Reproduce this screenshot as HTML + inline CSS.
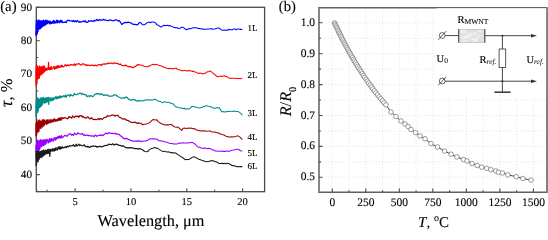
<!DOCTYPE html>
<html><head><meta charset="utf-8"><style>
html,body{margin:0;padding:0;background:#fff;}
body{width:548px;height:230px;position:relative;overflow:hidden;font-family:"Liberation Serif",serif;}
</style></head><body>
<svg width="548" height="230" viewBox="0 0 548 230" style="position:absolute;left:0;top:0;will-change:transform" text-rendering="geometricPrecision"><rect x="36.3" y="7.3" width="228.3" height="184.39999999999998" fill="none" stroke="#4a4a4a" stroke-width="1.3"/><path d="M36.3,174.66h3.5 M36.3,141.19h3.5 M36.3,107.72h3.5 M36.3,74.25h3.5 M36.3,40.77h3.5 M36.3,7.30h3.5 M36.3,191.40h2 M36.3,157.93h2 M36.3,124.45h2 M36.3,90.98h2 M36.3,57.51h2 M36.3,24.04h2 M75.10,191.7v-3.5 M130.93,191.7v-3.5 M186.77,191.7v-3.5 M242.60,191.7v-3.5 M47.18,191.7v-2 M103.02,191.7v-2 M158.85,191.7v-2 M214.68,191.7v-2" stroke="#4a4a4a" stroke-width="1.1" fill="none"/><path d="M35.90,30.88 L35.98,35.40 L36.06,33.14 L36.14,23.79 L36.22,24.97 L36.30,34.22 L36.38,20.12 L36.46,33.02 L36.54,32.48 L36.62,27.25 L36.70,24.65 L36.78,24.22 L36.86,23.82 L36.94,26.55 L37.02,27.33 L37.10,27.94 L37.18,34.05 L37.26,31.06 L37.34,28.59 L37.42,33.45 L37.50,22.93 L37.58,22.17 L37.66,28.05 L37.74,20.62 L37.82,20.51 L37.90,26.53 L37.98,25.85 L38.06,31.32 L38.14,27.69 L38.22,26.22 L38.30,25.95 L38.38,22.96 L38.46,20.20 L38.54,22.27 L38.62,27.88 L38.70,22.31 L38.78,24.15 L38.86,20.11 L38.94,29.02 L39.02,21.72 L39.10,22.89 L39.18,29.24 L39.26,25.33 L39.34,28.70 L39.42,26.52 L39.50,27.47 L39.58,20.98 L39.66,25.35 L39.74,24.98 L39.82,28.39 L39.90,23.49 L39.98,25.67 L40.06,20.63 L40.14,23.63 L40.22,23.01 L40.30,21.43 L40.38,27.32 L40.46,23.41 L40.54,28.58 L40.62,25.16 L40.70,25.23 L40.78,25.46 L40.86,25.73 L40.94,21.34 L41.02,23.69 L41.10,22.03 L41.18,23.32 L41.26,20.86 L41.34,27.70 L41.42,21.77 L41.50,25.28 L41.58,22.39 L41.66,26.71 L41.74,25.06 L41.82,21.08 L41.90,26.32 L41.98,26.99 L42.06,26.63 L42.14,24.18 L42.22,21.14 L42.30,21.46 L42.38,26.57 L42.46,23.92 L42.54,21.34 L42.62,26.11 L42.70,24.43 L42.78,23.91 L42.86,22.60 L42.94,22.81 L43.02,21.67 L43.10,20.36 L43.18,25.72 L43.26,23.08 L43.34,23.56 L43.42,22.13 L43.50,24.77 L43.58,20.27 L43.66,22.39 L43.74,20.30 L43.82,20.85 L43.90,25.88 L43.98,24.01 L44.06,22.63 L44.14,23.17 L44.22,25.17 L44.30,22.10 L44.38,23.49 L44.46,23.99 L44.54,22.12 L44.62,23.02 L44.70,24.36 L44.78,25.12 L45.03,20.94 L45.28,25.05 L45.53,20.15 L45.78,23.94 L46.03,24.15 L46.28,20.79 L46.53,22.13 L46.78,23.96 L47.03,20.20 L47.28,22.99 L47.53,23.67 L47.78,22.39 L48.03,23.27 L48.28,21.10 L48.53,22.23 L48.78,21.64 L49.03,20.87 L49.28,21.53 L49.53,23.90 L49.78,22.38 L50.03,21.45 L50.28,21.18 L50.53,23.73 L50.78,21.80 L51.03,23.75 L51.28,22.02 L51.53,22.02 L51.78,23.33 L52.03,22.76 L52.28,22.16 L52.53,21.61 L52.78,23.14 L53.03,21.52 L53.28,23.23 L53.53,20.35 L53.78,21.54 L54.03,21.82 L54.28,23.21 L54.53,20.92 L54.78,22.69 L55.03,22.26 L55.28,22.37 L55.53,22.07 L55.78,23.12 L56.03,21.13 L56.28,21.32 L56.53,20.72 L56.78,20.26 L57.03,20.74 L57.28,22.82 L57.53,22.59 L57.78,20.44 L58.03,21.87 L58.28,21.50 L58.53,21.83 L58.78,22.00 L59.03,20.99 L59.28,22.84 L59.53,21.44 L59.78,21.89 L60.03,21.91 L60.28,20.66 L60.53,20.32 L60.78,21.28 L61.03,22.24 L61.28,22.37 L61.53,22.14 L61.78,20.49 L62.68,22.60 L63.58,22.29 L64.48,22.47 L65.38,21.57 L66.28,22.53 L67.18,20.41 L68.08,20.39 L68.98,20.38 L69.88,20.93 L70.78,20.93 L71.68,20.80 L72.58,21.65 L73.48,20.49 L74.38,21.70 L75.28,20.79 L76.18,21.87 L77.08,20.51 L77.98,21.11 L78.88,22.39 L79.78,21.58 L80.68,22.12 L81.58,21.81 L82.48,21.71 L83.38,20.91 L84.28,21.64 L85.18,20.64 L86.08,22.06 L86.98,22.34 L87.88,22.14 L88.78,20.70 L89.68,21.21 L90.58,21.15 L91.48,20.66 L92.38,21.33 L93.28,21.34 L94.18,20.23 L95.08,20.88 L95.98,20.55 L96.88,19.31 L97.78,20.33 L98.68,20.52 L99.58,19.42 L100.48,20.03 L101.38,20.14 L102.28,20.10 L103.58,19.33 L104.88,20.21 L106.18,20.19 L107.48,20.51 L108.78,20.51 L110.08,19.85 L111.38,20.46 L112.68,20.71 L113.98,20.80 L115.28,19.89 L116.58,19.87 L117.88,20.96 L119.18,20.69 L120.48,22.25 L121.78,24.53 L123.08,23.54 L124.38,22.59 L125.68,22.28 L126.98,22.55 L128.28,22.05 L129.58,22.72 L130.88,22.80 L132.18,23.87 L133.48,24.48 L134.78,24.28 L136.08,24.53 L137.38,24.84 L138.68,23.49 L139.98,22.21" fill="none" stroke="#0000ff" stroke-width="1.25" stroke-linejoin="round"/><path d="M139.98,22.21 L141.28,23.20 L142.58,24.84 L143.88,24.70 L145.18,24.33 L146.48,23.12 L147.78,22.56 L149.08,22.12 L150.38,22.72 L151.68,21.94 L152.98,21.91 L154.28,22.15 L155.58,22.91 L156.88,24.86 L158.18,25.28 L159.48,26.13 L160.78,26.94 L162.08,26.44 L163.38,25.50 L164.68,25.33 L165.98,25.69 L167.28,25.30 L168.58,25.85 L169.88,25.52 L171.18,26.44 L172.48,26.79 L173.78,27.27 L175.08,27.64 L176.38,27.84 L177.68,27.89 L178.98,28.40 L180.28,28.21 L181.58,27.15 L182.88,27.16 L184.18,28.18 L185.48,29.30 L186.78,29.75 L188.08,28.89 L189.38,28.61 L190.68,28.73 L191.98,28.14 L193.28,27.82 L194.58,27.80 L195.88,27.70 L197.18,27.94 L198.48,28.42 L199.78,28.62 L201.08,29.11 L202.38,28.73 L203.68,29.22 L204.98,29.22 L206.28,29.19 L207.58,28.95 L208.88,28.90 L210.18,28.93 L211.48,28.61 L212.78,29.28 L214.08,29.03 L215.38,28.69 L216.68,28.20 L217.98,27.98 L219.28,28.06 L220.58,29.23 L221.88,30.15 L223.18,30.20 L224.48,29.96 L225.78,30.29 L227.08,30.26 L228.38,29.37 L229.68,29.64 L230.98,29.65 L232.28,29.70 L233.58,29.07 L234.88,29.03 L236.18,29.70 L237.48,29.03 L238.78,29.06 L240.08,29.36 L241.38,29.26 L242.30,29.49" fill="none" stroke="#0000ff" stroke-width="1.05" stroke-linejoin="round"/><path d="M35.90,69.25 L35.98,85.17 L36.06,69.74 L36.14,81.51 L36.22,66.47 L36.30,74.91 L36.38,65.73 L36.46,71.43 L36.54,71.32 L36.62,79.26 L36.70,73.94 L36.78,66.21 L36.86,83.91 L36.94,81.68 L37.02,81.97 L37.10,69.63 L37.18,72.22 L37.26,69.19 L37.34,67.37 L37.42,65.78 L37.50,73.73 L37.58,67.29 L37.66,68.15 L37.74,79.22 L37.82,73.02 L37.90,68.18 L37.98,75.73 L38.06,69.39 L38.14,73.31 L38.22,69.56 L38.30,72.96 L38.38,74.51 L38.46,73.07 L38.54,70.99 L38.62,76.47 L38.70,77.48 L38.78,67.85 L38.86,67.24 L38.94,66.92 L39.02,78.31 L39.10,77.67 L39.18,68.40 L39.26,77.74 L39.34,68.06 L39.42,71.73 L39.50,71.55 L39.58,76.52 L39.66,65.98 L39.74,69.21 L39.82,72.49 L39.90,66.28 L39.98,68.21 L40.06,70.75 L40.14,75.31 L40.22,73.89 L40.30,74.54 L40.38,73.72 L40.46,73.06 L40.54,74.47 L40.62,72.64 L40.70,73.12 L40.78,68.65 L40.86,67.29 L40.94,73.10 L41.02,67.25 L41.10,74.52 L41.18,71.35 L41.26,68.76 L41.34,74.42 L41.42,67.10 L41.50,70.38 L41.58,66.51 L41.66,74.33 L41.74,70.79 L41.82,72.74 L41.90,68.15 L41.98,72.60 L42.06,71.69 L42.14,71.14 L42.22,73.64 L42.30,69.31 L42.38,69.13 L42.46,71.34 L42.54,72.43 L42.62,68.41 L42.70,71.02 L42.78,67.40 L42.86,70.02 L42.94,71.64 L43.02,66.28 L43.10,71.23 L43.18,65.92 L43.26,72.83 L43.34,69.22 L43.42,68.76 L43.50,70.96 L43.58,69.53 L43.66,70.95 L43.74,66.43 L43.82,69.71 L43.90,69.65 L43.98,72.15 L44.06,66.13 L44.14,68.87 L44.22,70.02 L44.30,69.47 L44.38,66.36 L44.46,69.69 L44.54,67.30 L44.62,67.13 L44.70,71.39 L44.78,67.13 L45.03,68.67 L45.28,70.36 L45.53,70.02 L45.78,69.07 L46.03,70.41 L46.28,68.49 L46.53,69.26 L46.78,70.22 L47.03,69.44 L47.28,69.20 L47.53,68.01 L47.78,68.71 L48.03,67.91 L48.28,69.48 L48.53,62.33 L48.78,68.16 L49.03,69.39 L49.28,68.27 L49.53,67.55 L49.78,69.56 L50.03,67.70 L50.28,69.55 L50.53,69.27 L50.78,67.90 L51.03,68.90 L51.28,66.27 L51.53,67.59 L51.78,69.31 L52.03,68.23 L52.28,68.10 L52.53,68.44 L52.78,68.44 L53.03,68.06 L53.28,67.44 L53.53,66.58 L53.78,66.92 L54.03,66.88 L54.28,67.29 L54.53,69.12 L54.78,66.94 L55.03,67.20 L55.28,66.90 L55.53,67.52 L55.78,68.63 L56.03,68.38 L56.28,66.73 L56.53,66.34 L56.78,68.18 L57.03,66.93 L57.28,67.46 L57.53,65.58 L57.78,67.89 L58.03,66.21 L58.28,66.70 L58.53,65.79 L58.78,66.39 L59.03,67.52 L59.28,67.48 L59.53,66.43 L59.78,67.23 L60.03,66.32 L60.28,66.05 L60.53,66.50 L60.78,65.52 L61.03,65.81 L61.28,66.84 L61.53,66.97 L61.78,65.02 L62.68,66.70 L63.58,66.78 L64.48,65.70 L65.38,64.62 L66.28,66.04 L67.18,64.86 L68.08,65.69 L68.98,64.94 L69.88,65.44 L70.78,64.46 L71.68,64.86 L72.58,64.87 L73.48,65.02 L74.38,64.01 L75.28,65.57 L76.18,64.08 L77.08,64.07 L77.98,63.94 L78.88,63.54 L79.78,64.25 L80.68,64.94 L81.58,64.84 L82.48,63.87 L83.38,63.82 L84.28,64.23 L85.18,65.14 L86.08,64.69 L86.98,65.57 L87.88,65.17 L88.78,65.19 L89.68,65.54 L90.58,65.62 L91.48,65.07 L92.38,65.11 L93.28,65.55 L94.18,65.68 L95.08,65.08 L95.98,65.53 L96.88,65.79 L97.78,64.87 L98.68,64.77 L99.58,64.71 L100.48,64.74 L101.38,65.66 L102.28,64.04 L103.58,64.06 L104.88,63.80 L106.18,64.05 L107.48,63.15 L108.78,63.63 L110.08,63.05 L111.38,63.09 L112.68,63.71 L113.98,62.77 L115.28,63.39 L116.58,63.28 L117.88,63.60 L119.18,64.52 L120.48,64.04 L121.78,65.42 L123.08,65.67 L124.38,65.66 L125.68,65.16 L126.98,66.25 L128.28,66.46 L129.58,66.93 L130.88,66.46 L132.18,67.54 L133.48,67.55 L134.78,66.56 L136.08,66.07 L137.38,64.67 L138.68,64.81 L139.98,64.85" fill="none" stroke="#ff0000" stroke-width="1.25" stroke-linejoin="round"/><path d="M139.98,64.85 L141.28,65.33 L142.58,65.49 L143.88,66.15 L145.18,66.55 L146.48,66.45 L147.78,66.68 L149.08,65.98 L150.38,65.29 L151.68,65.07 L152.98,64.17 L154.28,64.66 L155.58,64.51 L156.88,64.34 L158.18,65.16 L159.48,65.60 L160.78,65.83 L162.08,66.25 L163.38,66.97 L164.68,67.58 L165.98,68.08 L167.28,68.35 L168.58,68.82 L169.88,68.18 L171.18,68.79 L172.48,68.57 L173.78,68.74 L175.08,68.31 L176.38,68.14 L177.68,69.60 L178.98,69.84 L180.28,70.09 L181.58,70.82 L182.88,70.78 L184.18,70.40 L185.48,70.49 L186.78,71.14 L188.08,70.58 L189.38,71.03 L190.68,70.61 L191.98,71.36 L193.28,71.11 L194.58,71.97 L195.88,72.07 L197.18,72.96 L198.48,73.47 L199.78,73.01 L201.08,73.34 L202.38,73.88 L203.68,73.79 L204.98,73.21 L206.28,72.68 L207.58,71.65 L208.88,71.39 L210.18,70.92 L211.48,71.92 L212.78,72.83 L214.08,74.12 L215.38,75.02 L216.68,76.28 L217.98,76.81 L219.28,76.56 L220.58,76.01 L221.88,76.45 L223.18,76.07 L224.48,75.79 L225.78,76.62 L227.08,76.84 L228.38,77.58 L229.68,78.37 L230.98,78.27 L232.28,78.25 L233.58,78.35 L234.88,78.26 L236.18,78.43 L237.48,78.53 L238.78,78.50 L240.08,78.45 L241.38,78.77 L242.30,78.58" fill="none" stroke="#ff0000" stroke-width="1.05" stroke-linejoin="round"/><path d="M35.90,112.92 L35.98,116.50 L36.06,103.01 L36.14,108.94 L36.22,107.48 L36.30,98.93 L36.38,99.87 L36.46,114.25 L36.54,106.34 L36.62,112.32 L36.70,98.69 L36.78,108.15 L36.86,112.80 L36.94,112.62 L37.02,97.58 L37.10,106.35 L37.18,103.68 L37.26,110.06 L37.34,98.69 L37.42,101.76 L37.50,110.41 L37.58,104.86 L37.66,104.51 L37.74,112.29 L37.82,102.33 L37.90,98.13 L37.98,103.27 L38.06,99.73 L38.14,98.68 L38.22,105.53 L38.30,110.81 L38.38,105.49 L38.46,106.31 L38.54,101.86 L38.62,105.08 L38.70,107.36 L38.78,105.13 L38.86,107.76 L38.94,104.46 L39.02,99.99 L39.10,104.69 L39.18,103.49 L39.26,99.52 L39.34,104.86 L39.42,107.09 L39.50,99.09 L39.58,103.76 L39.66,105.81 L39.74,102.03 L39.82,100.51 L39.90,101.59 L39.98,103.36 L40.06,104.84 L40.14,103.41 L40.22,98.64 L40.30,105.94 L40.38,106.93 L40.46,98.54 L40.54,100.01 L40.62,99.23 L40.70,105.79 L40.78,106.28 L40.86,97.94 L40.94,100.65 L41.02,99.31 L41.10,101.84 L41.18,105.92 L41.26,98.15 L41.34,99.04 L41.42,101.81 L41.50,102.09 L41.58,103.96 L41.66,101.26 L41.74,98.70 L41.82,100.47 L41.90,105.66 L41.98,103.67 L42.06,98.45 L42.14,104.01 L42.22,99.98 L42.30,103.67 L42.38,97.59 L42.46,104.24 L42.54,98.74 L42.62,100.95 L42.70,102.46 L42.78,101.27 L42.86,98.70 L42.94,98.50 L43.02,99.54 L43.10,97.85 L43.18,99.01 L43.26,98.39 L43.34,100.72 L43.42,99.93 L43.50,101.49 L43.58,99.37 L43.66,97.69 L43.74,99.67 L43.82,102.46 L43.90,99.13 L43.98,100.08 L44.06,102.32 L44.14,100.05 L44.22,103.07 L44.30,103.22 L44.38,99.37 L44.46,101.99 L44.54,98.98 L44.62,98.27 L44.70,100.07 L44.78,101.03 L45.03,102.89 L45.28,98.23 L45.53,101.37 L45.78,99.97 L46.03,98.07 L46.28,102.44 L46.53,100.90 L46.78,97.97 L47.03,101.77 L47.28,97.80 L47.53,97.72 L47.78,98.81 L48.03,101.54 L48.28,97.39 L48.53,101.28 L48.78,104.38 L49.03,97.48 L49.28,99.57 L49.53,99.07 L49.78,99.45 L50.03,100.10 L50.28,99.81 L50.53,101.00 L50.78,97.69 L51.03,100.16 L51.28,98.59 L51.53,99.93 L51.78,100.27 L52.03,100.57 L52.28,97.89 L52.53,98.52 L52.78,100.19 L53.03,100.13 L53.28,98.10 L53.53,99.98 L53.78,98.12 L54.03,97.97 L54.28,99.18 L54.53,98.19 L54.78,98.07 L55.03,97.82 L55.28,97.92 L55.53,96.94 L55.78,96.65 L56.03,98.77 L56.28,98.13 L56.53,98.41 L56.78,98.75 L57.03,96.97 L57.28,96.94 L57.53,97.02 L57.78,97.06 L58.03,98.36 L58.28,97.18 L58.53,96.98 L58.78,97.84 L59.03,96.51 L59.28,96.24 L59.53,97.88 L59.78,98.00 L60.03,96.66 L60.28,97.57 L60.53,95.86 L60.78,96.84 L61.03,97.27 L61.28,96.35 L61.53,96.56 L61.78,97.22 L62.68,96.99 L63.58,95.68 L64.48,96.92 L65.38,95.16 L66.28,97.17 L67.18,95.11 L68.08,95.06 L68.98,94.76 L69.88,96.42 L70.78,94.63 L71.68,95.18 L72.58,95.88 L73.48,95.63 L74.38,93.53 L75.28,94.45 L76.18,94.52 L77.08,94.64 L77.98,93.82 L78.88,93.77 L79.78,93.11 L80.68,93.21 L81.58,94.35 L82.48,93.64 L83.38,94.14 L84.28,94.69 L85.18,94.51 L86.08,94.75 L86.98,96.68 L87.88,96.02 L88.78,95.78 L89.68,96.76 L90.58,95.50 L91.48,95.74 L92.38,96.68 L93.28,96.21 L94.18,95.38 L95.08,94.11 L95.98,94.20 L96.88,93.55 L97.78,93.85 L98.68,93.58 L99.58,93.81 L100.48,94.72 L101.38,93.98 L102.28,94.18 L103.58,95.49 L104.88,94.83 L106.18,95.07 L107.48,94.96 L108.78,96.23 L110.08,96.20 L111.38,96.07 L112.68,95.94 L113.98,94.81 L115.28,94.77 L116.58,95.41 L117.88,96.54 L119.18,97.20 L120.48,97.80 L121.78,98.25 L123.08,97.74 L124.38,98.35 L125.68,97.07 L126.98,97.51 L128.28,98.84 L129.58,99.63 L130.88,100.03 L132.18,99.83 L133.48,99.69 L134.78,99.70 L136.08,100.83 L137.38,101.11 L138.68,100.35 L139.98,101.16" fill="none" stroke="#008b8b" stroke-width="1.25" stroke-linejoin="round"/><path d="M139.98,101.16 L141.28,100.67 L142.58,100.58 L143.88,100.68 L145.18,99.87 L146.48,100.09 L147.78,99.64 L149.08,100.08 L150.38,99.73 L151.68,100.02 L152.98,99.97 L154.28,99.31 L155.58,99.36 L156.88,100.61 L158.18,100.96 L159.48,101.26 L160.78,101.55 L162.08,102.62 L163.38,102.26 L164.68,101.77 L165.98,102.26 L167.28,102.29 L168.58,102.29 L169.88,102.88 L171.18,103.16 L172.48,103.40 L173.78,104.77 L175.08,106.07 L176.38,106.97 L177.68,107.21 L178.98,107.71 L180.28,107.93 L181.58,107.92 L182.88,108.76 L184.18,108.25 L185.48,109.04 L186.78,108.69 L188.08,108.97 L189.38,109.00 L190.68,107.69 L191.98,106.39 L193.28,106.45 L194.58,106.93 L195.88,106.90 L197.18,107.58 L198.48,107.67 L199.78,108.06 L201.08,107.61 L202.38,107.27 L203.68,106.58 L204.98,106.39 L206.28,105.61 L207.58,106.04 L208.88,106.25 L210.18,106.41 L211.48,107.08 L212.78,108.03 L214.08,107.91 L215.38,108.27 L216.68,107.64 L217.98,107.80 L219.28,107.87 L220.58,109.88 L221.88,111.89 L223.18,111.54 L224.48,112.11 L225.78,111.84 L227.08,111.63 L228.38,111.51 L229.68,111.19 L230.98,111.23 L232.28,111.42 L233.58,110.92 L234.88,111.29 L236.18,111.47 L237.48,111.47 L238.78,111.87 L240.08,112.89 L241.38,113.78 L242.30,115.35" fill="none" stroke="#008b8b" stroke-width="1.05" stroke-linejoin="round"/><path d="M35.90,123.51 L35.98,135.97 L36.06,135.91 L36.14,131.02 L36.22,129.06 L36.30,123.23 L36.38,128.78 L36.46,124.70 L36.54,121.83 L36.62,121.84 L36.70,132.99 L36.78,134.80 L36.86,121.99 L36.94,119.91 L37.02,123.85 L37.10,121.80 L37.18,122.60 L37.26,128.54 L37.34,126.02 L37.42,126.05 L37.50,122.71 L37.58,129.27 L37.66,123.83 L37.74,125.32 L37.82,126.14 L37.90,132.08 L37.98,123.06 L38.06,129.30 L38.14,123.81 L38.22,131.35 L38.30,124.80 L38.38,126.14 L38.46,130.72 L38.54,128.06 L38.62,120.90 L38.70,121.40 L38.78,131.55 L38.86,120.10 L38.94,123.26 L39.02,130.78 L39.10,119.93 L39.18,121.57 L39.26,122.13 L39.34,120.71 L39.42,124.88 L39.50,126.11 L39.58,123.13 L39.66,120.90 L39.74,128.16 L39.82,128.00 L39.90,125.45 L39.98,121.14 L40.06,125.13 L40.14,125.93 L40.22,123.91 L40.30,128.04 L40.38,123.46 L40.46,124.55 L40.54,120.82 L40.62,124.93 L40.70,126.72 L40.78,126.33 L40.86,122.04 L40.94,128.48 L41.02,126.02 L41.10,123.41 L41.18,123.29 L41.26,126.33 L41.34,121.22 L41.42,125.04 L41.50,125.64 L41.58,123.94 L41.66,126.76 L41.74,123.47 L41.82,123.41 L41.90,121.97 L41.98,126.84 L42.06,122.16 L42.14,125.01 L42.22,122.81 L42.30,126.69 L42.38,126.72 L42.46,119.95 L42.54,126.92 L42.62,124.06 L42.70,120.25 L42.78,123.22 L42.86,120.07 L42.94,123.51 L43.02,120.99 L43.10,122.21 L43.18,121.76 L43.26,123.73 L43.34,125.15 L43.42,125.85 L43.50,121.84 L43.58,123.38 L43.66,119.73 L43.74,122.06 L43.82,125.74 L43.90,120.43 L43.98,125.07 L44.06,123.69 L44.14,121.47 L44.22,124.38 L44.30,121.41 L44.38,125.00 L44.46,120.15 L44.54,120.36 L44.62,124.02 L44.70,122.25 L44.78,120.50 L45.03,122.52 L45.28,121.25 L45.53,122.56 L45.78,123.51 L46.03,124.00 L46.28,119.87 L46.53,122.49 L46.78,124.32 L47.03,121.72 L47.28,123.11 L47.53,119.95 L47.78,123.43 L48.03,122.05 L48.28,123.33 L48.53,122.82 L48.78,123.10 L49.03,119.64 L49.28,122.33 L49.53,120.17 L49.78,120.42 L50.03,120.62 L50.28,121.62 L50.53,121.71 L50.78,122.80 L51.03,119.29 L51.28,119.93 L51.53,120.51 L51.78,122.11 L52.03,121.08 L52.28,120.89 L52.53,121.70 L52.78,121.27 L53.03,119.95 L53.28,119.20 L53.53,120.42 L53.78,121.75 L54.03,120.74 L54.28,118.89 L54.53,120.10 L54.78,119.86 L55.03,120.43 L55.28,120.38 L55.53,121.46 L55.78,119.47 L56.03,119.63 L56.28,120.20 L56.53,120.96 L56.78,120.35 L57.03,119.57 L57.28,120.54 L57.53,119.50 L57.78,120.85 L58.03,118.79 L58.28,118.29 L58.53,120.27 L58.78,118.68 L59.03,120.20 L59.28,119.47 L59.53,119.14 L59.78,117.92 L60.03,119.83 L60.28,117.78 L60.53,120.22 L60.78,119.93 L61.03,118.32 L61.28,117.81 L61.53,119.81 L61.78,118.67 L62.68,117.58 L63.58,118.40 L64.48,117.60 L65.38,117.85 L66.28,118.27 L67.18,118.77 L68.08,118.33 L68.98,116.67 L69.88,117.27 L70.78,117.16 L71.68,118.15 L72.58,116.02 L73.48,116.84 L74.38,117.61 L75.28,116.41 L76.18,116.05 L77.08,116.61 L77.98,116.08 L78.88,117.28 L79.78,115.57 L80.68,115.84 L81.58,115.68 L82.48,117.03 L83.38,116.39 L84.28,117.73 L85.18,117.92 L86.08,118.21 L86.98,117.17 L87.88,116.92 L88.78,117.80 L89.68,118.98 L90.58,118.74 L91.48,117.63 L92.38,118.87 L93.28,119.36 L94.18,119.55 L95.08,119.24 L95.98,119.58 L96.88,119.62 L97.78,118.90 L98.68,118.53 L99.58,119.56 L100.48,118.59 L101.38,118.78 L102.28,119.41 L103.58,118.09 L104.88,117.29 L106.18,117.19 L107.48,115.58 L108.78,116.23 L110.08,116.00 L111.38,115.23 L112.68,115.22 L113.98,115.01 L115.28,116.20 L116.58,115.30 L117.88,115.43 L119.18,117.25 L120.48,117.60 L121.78,118.44 L123.08,119.12 L124.38,118.78 L125.68,119.41 L126.98,120.49 L128.28,120.45 L129.58,121.51 L130.88,122.22 L132.18,122.48 L133.48,122.69 L134.78,122.21 L136.08,122.61 L137.38,123.56 L138.68,122.83 L139.98,123.53" fill="none" stroke="#990000" stroke-width="1.25" stroke-linejoin="round"/><path d="M139.98,123.53 L141.28,123.37 L142.58,124.85 L143.88,124.23 L145.18,124.30 L146.48,123.90 L147.78,123.37 L149.08,122.94 L150.38,121.98 L151.68,120.70 L152.98,119.63 L154.28,119.81 L155.58,120.09 L156.88,119.84 L158.18,121.80 L159.48,122.37 L160.78,123.49 L162.08,123.92 L163.38,124.33 L164.68,124.97 L165.98,124.86 L167.28,124.68 L168.58,124.98 L169.88,124.56 L171.18,124.43 L172.48,125.20 L173.78,126.60 L175.08,127.10 L176.38,127.15 L177.68,127.13 L178.98,127.98 L180.28,129.15 L181.58,130.41 L182.88,128.63 L184.18,127.96 L185.48,128.21 L186.78,128.47 L188.08,127.97 L189.38,128.15 L190.68,128.05 L191.98,128.26 L193.28,128.80 L194.58,128.53 L195.88,129.80 L197.18,130.08 L198.48,130.63 L199.78,130.74 L201.08,131.07 L202.38,130.70 L203.68,131.10 L204.98,130.79 L206.28,131.06 L207.58,131.27 L208.88,130.95 L210.18,130.94 L211.48,131.69 L212.78,131.91 L214.08,132.08 L215.38,132.13 L216.68,132.77 L217.98,132.69 L219.28,133.53 L220.58,133.87 L221.88,134.41 L223.18,134.84 L224.48,135.24 L225.78,136.18 L227.08,136.46 L228.38,137.07 L229.68,137.02 L230.98,136.88 L232.28,137.08 L233.58,136.84 L234.88,136.72 L236.18,136.40 L237.48,135.66 L238.78,136.59 L240.08,137.12 L241.38,138.73 L242.30,139.51" fill="none" stroke="#990000" stroke-width="1.05" stroke-linejoin="round"/><path d="M35.90,145.22 L35.98,148.19 L36.06,148.83 L36.14,151.63 L36.22,150.47 L36.30,151.02 L36.38,145.84 L36.46,150.70 L36.54,145.03 L36.62,149.26 L36.70,146.73 L36.78,148.29 L36.86,139.57 L36.94,147.06 L37.02,142.68 L37.10,145.15 L37.18,140.41 L37.26,149.01 L37.34,152.34 L37.42,144.42 L37.50,140.81 L37.58,148.02 L37.66,141.08 L37.74,151.52 L37.82,140.97 L37.90,144.15 L37.98,145.84 L38.06,140.86 L38.14,143.42 L38.22,142.82 L38.30,148.27 L38.38,151.54 L38.46,143.77 L38.54,148.89 L38.62,141.01 L38.70,146.17 L38.78,144.37 L38.86,142.65 L38.94,148.68 L39.02,147.73 L39.10,140.82 L39.18,142.54 L39.26,148.23 L39.34,149.99 L39.42,145.82 L39.50,148.48 L39.58,149.54 L39.66,146.92 L39.74,145.87 L39.82,141.54 L39.90,143.00 L39.98,145.44 L40.06,148.31 L40.14,142.21 L40.22,143.07 L40.30,139.52 L40.38,145.79 L40.46,143.39 L40.54,146.57 L40.62,141.41 L40.70,145.18 L40.78,145.23 L40.86,143.35 L40.94,140.92 L41.02,142.74 L41.10,145.59 L41.18,140.87 L41.26,140.03 L41.34,143.08 L41.42,141.18 L41.50,145.72 L41.58,145.78 L41.66,146.73 L41.74,145.83 L41.82,144.27 L41.90,140.69 L41.98,145.50 L42.06,144.73 L42.14,144.81 L42.22,144.39 L42.30,145.31 L42.38,141.39 L42.46,144.06 L42.54,142.91 L42.62,141.60 L42.70,141.50 L42.78,140.29 L42.86,142.58 L42.94,141.71 L43.02,142.04 L43.10,144.89 L43.18,143.71 L43.26,143.66 L43.34,145.60 L43.42,140.58 L43.50,142.43 L43.58,139.75 L43.66,141.63 L43.74,145.10 L43.82,139.68 L43.90,143.81 L43.98,144.42 L44.06,142.21 L44.14,143.92 L44.22,141.75 L44.30,141.20 L44.38,142.08 L44.46,140.23 L44.54,140.87 L44.62,140.84 L44.70,144.72 L44.78,140.97 L45.03,140.32 L45.28,144.12 L45.53,139.74 L45.78,144.00 L46.03,143.31 L46.28,142.17 L46.53,141.01 L46.78,139.84 L47.03,139.37 L47.28,139.32 L47.53,140.40 L47.78,140.61 L48.03,142.83 L48.28,141.06 L48.53,142.94 L48.78,141.71 L49.03,139.26 L49.28,140.88 L49.53,139.24 L49.78,138.72 L50.03,142.23 L50.28,139.81 L50.53,139.19 L50.78,138.81 L51.03,140.81 L51.28,140.02 L51.53,138.31 L51.78,140.79 L52.03,139.06 L52.28,140.83 L52.53,139.71 L52.78,139.79 L53.03,139.42 L53.28,140.07 L53.53,141.02 L53.78,140.27 L54.03,137.76 L54.28,139.06 L54.53,138.12 L54.78,137.60 L55.03,137.81 L55.28,137.88 L55.53,140.02 L55.78,139.23 L56.03,139.46 L56.28,138.88 L56.53,137.61 L56.78,137.75 L57.03,137.80 L57.28,137.27 L57.53,137.56 L57.78,138.50 L58.03,136.37 L58.28,136.88 L58.53,137.39 L58.78,137.87 L59.03,137.71 L59.28,137.86 L59.53,136.04 L59.78,136.19 L60.03,136.49 L60.28,136.36 L60.53,137.61 L60.78,138.20 L61.03,137.29 L61.28,135.47 L61.53,136.13 L61.78,137.43 L62.68,137.52 L63.58,136.44 L64.48,135.60 L65.38,135.41 L66.28,135.90 L67.18,136.25 L68.08,134.80 L68.98,134.27 L69.88,133.66 L70.78,133.82 L71.68,135.27 L72.58,134.61 L73.48,135.27 L74.38,133.15 L75.28,133.69 L76.18,134.50 L77.08,134.14 L77.98,132.87 L78.88,133.52 L79.78,133.98 L80.68,134.11 L81.58,133.78 L82.48,133.50 L83.38,135.28 L84.28,134.66 L85.18,135.48 L86.08,135.48 L86.98,134.97 L87.88,135.52 L88.78,135.41 L89.68,135.74 L90.58,135.77 L91.48,136.13 L92.38,135.93 L93.28,135.94 L94.18,136.64 L95.08,135.23 L95.98,135.28 L96.88,136.34 L97.78,135.79 L98.68,135.52 L99.58,135.13 L100.48,135.46 L101.38,134.79 L102.28,135.57 L103.58,135.12 L104.88,133.91 L106.18,133.02 L107.48,133.91 L108.78,132.72 L110.08,133.06 L111.38,133.32 L112.68,133.33 L113.98,133.60 L115.28,133.33 L116.58,134.10 L117.88,134.00 L119.18,134.51 L120.48,135.78 L121.78,136.62 L123.08,138.10 L124.38,138.83 L125.68,138.30 L126.98,138.67 L128.28,139.28 L129.58,139.68 L130.88,140.57 L132.18,140.82 L133.48,141.08 L134.78,141.01 L136.08,141.14 L137.38,140.83 L138.68,141.09 L139.98,140.78" fill="none" stroke="#9900ff" stroke-width="1.25" stroke-linejoin="round"/><path d="M139.98,140.78 L141.28,141.82 L142.58,141.23 L143.88,141.02 L145.18,141.09 L146.48,140.62 L147.78,140.44 L149.08,138.98 L150.38,138.65 L151.68,139.00 L152.98,138.89 L154.28,138.81 L155.58,139.04 L156.88,139.09 L158.18,140.25 L159.48,140.63 L160.78,140.86 L162.08,140.93 L163.38,141.33 L164.68,141.85 L165.98,142.17 L167.28,142.28 L168.58,142.98 L169.88,143.36 L171.18,143.48 L172.48,143.80 L173.78,143.89 L175.08,143.98 L176.38,144.08 L177.68,143.69 L178.98,143.07 L180.28,143.36 L181.58,142.97 L182.88,142.83 L184.18,142.98 L185.48,142.93 L186.78,142.96 L188.08,142.87 L189.38,142.69 L190.68,142.71 L191.98,142.20 L193.28,142.94 L194.58,143.64 L195.88,145.12 L197.18,146.36 L198.48,147.33 L199.78,147.26 L201.08,148.00 L202.38,148.23 L203.68,148.37 L204.98,147.92 L206.28,148.47 L207.58,148.76 L208.88,148.27 L210.18,148.66 L211.48,149.18 L212.78,149.94 L214.08,150.29 L215.38,151.05 L216.68,151.07 L217.98,151.33 L219.28,151.23 L220.58,151.35 L221.88,151.00 L223.18,151.36 L224.48,151.39 L225.78,151.37 L227.08,150.86 L228.38,151.46 L229.68,150.97 L230.98,150.44 L232.28,150.24 L233.58,149.98 L234.88,149.69 L236.18,149.29 L237.48,149.22 L238.78,149.53 L240.08,150.45 L241.38,151.02 L242.30,151.35" fill="none" stroke="#9900ff" stroke-width="1.05" stroke-linejoin="round"/><path d="M35.90,158.18 L35.98,154.19 L36.06,151.25 L36.14,165.80 L36.22,155.42 L36.30,158.94 L36.38,156.23 L36.46,151.78 L36.54,163.76 L36.62,164.08 L36.70,153.56 L36.78,156.68 L36.86,156.00 L36.94,153.19 L37.02,159.64 L37.10,161.09 L37.18,160.67 L37.26,159.47 L37.34,151.14 L37.42,153.74 L37.50,157.18 L37.58,159.36 L37.66,155.48 L37.74,156.16 L37.82,160.64 L37.90,151.12 L37.98,153.89 L38.06,154.09 L38.14,161.84 L38.22,153.31 L38.30,151.31 L38.38,155.26 L38.46,157.67 L38.54,152.38 L38.62,159.47 L38.70,152.76 L38.78,157.88 L38.86,152.35 L38.94,159.47 L39.02,152.68 L39.10,157.80 L39.18,158.74 L39.26,153.10 L39.34,151.53 L39.42,156.10 L39.50,155.23 L39.58,155.00 L39.66,157.66 L39.74,154.74 L39.82,154.99 L39.90,154.84 L39.98,154.51 L40.06,154.04 L40.14,151.91 L40.22,153.02 L40.30,152.73 L40.38,152.56 L40.46,156.89 L40.54,151.41 L40.62,152.12 L40.70,154.64 L40.78,152.91 L40.86,152.31 L40.94,153.31 L41.02,154.25 L41.10,155.51 L41.18,157.68 L41.26,156.71 L41.34,153.54 L41.42,153.65 L41.50,153.35 L41.58,152.05 L41.66,157.08 L41.74,150.80 L41.82,151.73 L41.90,154.86 L41.98,154.32 L42.06,152.16 L42.14,156.57 L42.22,152.97 L42.30,154.18 L42.38,150.81 L42.46,156.01 L42.54,150.85 L42.62,152.70 L42.70,155.80 L42.78,156.11 L42.86,155.80 L42.94,155.27 L43.02,151.55 L43.10,150.29 L43.18,152.83 L43.26,150.45 L43.34,155.80 L43.42,150.09 L43.50,151.95 L43.58,151.21 L43.66,150.09 L43.74,152.87 L43.82,150.41 L43.90,155.08 L43.98,153.83 L44.06,152.01 L44.14,154.61 L44.22,154.31 L44.30,151.69 L44.38,154.50 L44.46,154.90 L44.54,153.19 L44.62,151.72 L44.70,154.61 L44.78,154.79 L45.03,151.57 L45.28,150.17 L45.53,154.00 L45.78,152.88 L46.03,150.71 L46.28,152.22 L46.53,150.93 L46.78,153.64 L47.03,150.94 L47.28,150.23 L47.53,149.51 L47.78,150.74 L48.03,153.39 L48.28,150.08 L48.53,151.00 L48.78,153.01 L49.03,149.06 L49.28,150.14 L49.53,152.13 L49.78,156.30 L50.03,152.36 L50.28,151.91 L50.53,149.26 L50.78,150.85 L51.03,150.63 L51.28,151.05 L51.53,149.59 L51.78,149.79 L52.03,149.22 L52.28,149.32 L52.53,148.85 L52.78,151.25 L53.03,151.10 L53.28,149.26 L53.53,150.28 L53.78,149.53 L54.03,148.77 L54.28,148.92 L54.53,150.81 L54.78,148.74 L55.03,149.41 L55.28,150.47 L55.53,148.38 L55.78,149.88 L56.03,147.67 L56.28,149.49 L56.53,149.63 L56.78,149.64 L57.03,149.97 L57.28,149.11 L57.53,149.82 L57.78,147.70 L58.03,148.34 L58.28,147.39 L58.53,146.96 L58.78,147.92 L59.03,148.66 L59.28,148.76 L59.53,146.57 L59.78,149.10 L60.03,147.12 L60.28,147.20 L60.53,148.63 L60.78,148.75 L61.03,148.26 L61.28,147.12 L61.53,147.42 L61.78,148.37 L62.68,146.92 L63.58,147.90 L64.48,147.65 L65.38,146.68 L66.28,147.56 L67.18,146.14 L68.08,146.85 L68.98,146.42 L69.88,145.56 L70.78,145.87 L71.68,145.90 L72.58,145.62 L73.48,144.58 L74.38,146.38 L75.28,146.22 L76.18,144.18 L77.08,146.01 L77.98,145.11 L78.88,144.26 L79.78,145.64 L80.68,144.89 L81.58,145.53 L82.48,145.89 L83.38,145.52 L84.28,144.82 L85.18,146.50 L86.08,146.48 L86.98,147.08 L87.88,146.09 L88.78,147.14 L89.68,147.36 L90.58,146.45 L91.48,146.54 L92.38,146.41 L93.28,145.86 L94.18,146.25 L95.08,146.42 L95.98,146.05 L96.88,147.14 L97.78,146.58 L98.68,146.81 L99.58,146.36 L100.48,146.48 L101.38,147.03 L102.28,146.42 L103.58,146.26 L104.88,145.55 L106.18,145.29 L107.48,145.38 L108.78,144.16 L110.08,144.43 L111.38,144.67 L112.68,143.81 L113.98,145.05 L115.28,144.40 L116.58,144.07 L117.88,144.94 L119.18,145.32 L120.48,145.47 L121.78,146.30 L123.08,145.68 L124.38,146.69 L125.68,147.33 L126.98,147.81 L128.28,147.66 L129.58,147.78 L130.88,147.65 L132.18,147.99 L133.48,148.09 L134.78,148.63 L136.08,148.66 L137.38,148.70 L138.68,149.11 L139.98,148.33" fill="none" stroke="#1a1a1a" stroke-width="1.25" stroke-linejoin="round"/><path d="M139.98,148.33 L141.28,149.43 L142.58,149.55 L143.88,151.09 L145.18,151.58 L146.48,151.74 L147.78,151.57 L149.08,149.85 L150.38,149.16 L151.68,148.48 L152.98,148.21 L154.28,147.36 L155.58,148.13 L156.88,147.96 L158.18,148.64 L159.48,149.58 L160.78,150.35 L162.08,151.14 L163.38,151.50 L164.68,151.13 L165.98,151.84 L167.28,151.91 L168.58,151.83 L169.88,152.38 L171.18,152.68 L172.48,152.50 L173.78,153.19 L175.08,152.77 L176.38,153.36 L177.68,154.69 L178.98,155.10 L180.28,156.14 L181.58,156.93 L182.88,157.56 L184.18,159.02 L185.48,159.72 L186.78,159.55 L188.08,159.51 L189.38,159.27 L190.68,158.41 L191.98,157.55 L193.28,156.90 L194.58,157.04 L195.88,157.68 L197.18,158.18 L198.48,159.15 L199.78,159.44 L201.08,159.90 L202.38,160.60 L203.68,160.78 L204.98,161.45 L206.28,161.76 L207.58,161.54 L208.88,161.40 L210.18,160.91 L211.48,160.51 L212.78,160.89 L214.08,160.95 L215.38,161.83 L216.68,162.05 L217.98,162.82 L219.28,163.58 L220.58,163.40 L221.88,163.37 L223.18,163.62 L224.48,163.27 L225.78,163.71 L227.08,163.13 L228.38,163.56 L229.68,164.02 L230.98,164.71 L232.28,165.83 L233.58,165.55 L234.88,165.98 L236.18,166.38 L237.48,166.64 L238.78,166.83 L240.08,166.64 L241.38,166.58 L242.30,167.07" fill="none" stroke="#1a1a1a" stroke-width="1.05" stroke-linejoin="round"/><text x="32.0" y="177.86363636363637" font-size="11.2" text-anchor="end" style="font-family:'Liberation Serif',serif" fill="#000" stroke="#000" stroke-width="0.12" >40</text><text x="32.0" y="144.3909090909091" font-size="11.2" text-anchor="end" style="font-family:'Liberation Serif',serif" fill="#000" stroke="#000" stroke-width="0.12" >50</text><text x="32.0" y="110.91818181818182" font-size="11.2" text-anchor="end" style="font-family:'Liberation Serif',serif" fill="#000" stroke="#000" stroke-width="0.12" >60</text><text x="32.0" y="77.44545454545455" font-size="11.2" text-anchor="end" style="font-family:'Liberation Serif',serif" fill="#000" stroke="#000" stroke-width="0.12" >70</text><text x="32.0" y="43.972727272727276" font-size="11.2" text-anchor="end" style="font-family:'Liberation Serif',serif" fill="#000" stroke="#000" stroke-width="0.12" >80</text><text x="32.0" y="10.5" font-size="11.2" text-anchor="end" style="font-family:'Liberation Serif',serif" fill="#000" stroke="#000" stroke-width="0.12" >90</text><text x="75.1" y="205.2" font-size="10.5" text-anchor="middle" style="font-family:'Liberation Serif',serif" fill="#000" stroke="#000" stroke-width="0.12" >5</text><text x="130.93333333333334" y="205.2" font-size="10.5" text-anchor="middle" style="font-family:'Liberation Serif',serif" fill="#000" stroke="#000" stroke-width="0.12" >10</text><text x="186.76666666666665" y="205.2" font-size="10.5" text-anchor="middle" style="font-family:'Liberation Serif',serif" fill="#000" stroke="#000" stroke-width="0.12" >15</text><text x="242.6" y="205.2" font-size="10.5" text-anchor="middle" style="font-family:'Liberation Serif',serif" fill="#000" stroke="#000" stroke-width="0.12" >20</text><text x="0.2" y="10.6" font-size="14.8" text-anchor="start" style="font-family:'Liberation Serif',serif" fill="#000" stroke="#000" stroke-width="0.12" >(a)</text><text x="247.5" y="31.0" font-size="9" text-anchor="start" style="font-family:'Liberation Serif',serif" fill="#000" stroke="#000" stroke-width="0.12" >1L</text><text x="247.5" y="77.9" font-size="9" text-anchor="start" style="font-family:'Liberation Serif',serif" fill="#000" stroke="#000" stroke-width="0.12" >2L</text><text x="247.5" y="116.3" font-size="9" text-anchor="start" style="font-family:'Liberation Serif',serif" fill="#000" stroke="#000" stroke-width="0.12" >3L</text><text x="247.5" y="140.1" font-size="9" text-anchor="start" style="font-family:'Liberation Serif',serif" fill="#000" stroke="#000" stroke-width="0.12" >4L</text><text x="247.5" y="155.79999999999998" font-size="9" text-anchor="start" style="font-family:'Liberation Serif',serif" fill="#000" stroke="#000" stroke-width="0.12" >5L</text><text x="247.5" y="168.79999999999998" font-size="9" text-anchor="start" style="font-family:'Liberation Serif',serif" fill="#000" stroke="#000" stroke-width="0.12" >6L</text><text x="151" y="225.5" font-size="16.3" text-anchor="middle" style="font-family:'Liberation Serif',serif" fill="#000" stroke="#000" stroke-width="0.12" >Wavelength, μm</text><text transform="translate(12.0,92.8) rotate(-90)" font-size="16.5" letter-spacing="0" text-anchor="middle" style="font-family:'Liberation Serif',serif" fill="#000" stroke="#000" stroke-width="0.12"><tspan font-style="italic" font-size="18">τ</tspan>, %</text><path d="M332.30,7.8V192.3 M349.06,7.8V192.3 M365.82,7.8V192.3 M382.57,7.8V192.3 M399.33,7.8V192.3 M416.09,7.8V192.3 M432.85,7.8V192.3 M449.61,7.8V192.3 M466.37,7.8V192.3 M483.12,7.8V192.3 M499.88,7.8V192.3 M516.64,7.8V192.3 M533.40,7.8V192.3 M319.0,177.30H546.6 M319.0,161.85H546.6 M319.0,146.40H546.6 M319.0,130.95H546.6 M319.0,115.50H546.6 M319.0,100.05H546.6 M319.0,84.60H546.6 M319.0,69.15H546.6 M319.0,53.70H546.6 M319.0,38.25H546.6 M319.0,22.80H546.6" stroke="#dadada" stroke-width="0.7" stroke-dasharray="1 2" fill="none"/><path d="M334.60,23.00 L335.27,24.44 L335.95,25.90 L336.64,27.38 L337.34,28.86 L338.06,30.35 L338.79,31.86 L339.53,33.38 L340.28,34.91 L341.05,36.45 L341.83,38.01 L342.63,39.57 L343.44,41.15 L344.26,42.75 L345.10,44.35 L345.96,45.97 L346.83,47.60 L347.72,49.25 L348.63,50.91 L349.55,52.58 L350.50,54.26 L351.46,55.96 L352.44,57.67 L353.45,59.40 L354.47,61.14 L355.52,62.89 L356.59,64.66 L357.68,66.44 L358.80,68.23 L359.94,70.04 L361.11,71.86 L362.30,73.70 L363.52,75.55 L364.77,77.41 L366.05,79.29 L367.36,81.18 L368.71,83.09 L370.08,85.01 L371.49,86.94 L372.94,88.88 L374.42,90.84 L375.95,92.81 L377.51,94.79 L379.11,96.79 L380.76,98.79 L382.45,100.81 L384.18,102.83 L385.97,104.87 L391.00,112.00 L396.00,116.50 L401.00,121.00 L405.00,124.00 L408.00,126.50 L411.00,129.40 L415.50,132.60 L420.00,136.00 L425.00,138.80 L431.00,143.60 L437.50,147.00 L444.60,151.10 L451.10,154.20 L456.90,156.90 L463.60,159.50 L467.00,161.00 L472.00,163.60 L477.20,165.50 L481.70,167.10 L486.60,168.30 L490.80,169.70 L495.70,170.90 L498.50,172.30 L502.40,173.00 L507.80,174.80 L516.20,176.70 L522.90,178.50 L531.00,180.10" fill="none" stroke="#333" stroke-width="0.9"/><g fill="#fff" stroke="#707070" stroke-width="0.7"><circle cx="334.60" cy="23.00" r="2.3"/><circle cx="335.27" cy="24.44" r="2.3"/><circle cx="335.95" cy="25.90" r="2.3"/><circle cx="336.64" cy="27.38" r="2.3"/><circle cx="337.34" cy="28.86" r="2.3"/><circle cx="338.06" cy="30.35" r="2.3"/><circle cx="338.79" cy="31.86" r="2.3"/><circle cx="339.53" cy="33.38" r="2.3"/><circle cx="340.28" cy="34.91" r="2.3"/><circle cx="341.05" cy="36.45" r="2.3"/><circle cx="341.83" cy="38.01" r="2.3"/><circle cx="342.63" cy="39.57" r="2.3"/><circle cx="343.44" cy="41.15" r="2.3"/><circle cx="344.26" cy="42.75" r="2.3"/><circle cx="345.10" cy="44.35" r="2.3"/><circle cx="345.96" cy="45.97" r="2.3"/><circle cx="346.83" cy="47.60" r="2.3"/><circle cx="347.72" cy="49.25" r="2.3"/><circle cx="348.63" cy="50.91" r="2.3"/><circle cx="349.55" cy="52.58" r="2.3"/><circle cx="350.50" cy="54.26" r="2.3"/><circle cx="351.46" cy="55.96" r="2.3"/><circle cx="352.44" cy="57.67" r="2.3"/><circle cx="353.45" cy="59.40" r="2.3"/><circle cx="354.47" cy="61.14" r="2.3"/><circle cx="355.52" cy="62.89" r="2.3"/><circle cx="356.59" cy="64.66" r="2.3"/><circle cx="357.68" cy="66.44" r="2.3"/><circle cx="358.80" cy="68.23" r="2.3"/><circle cx="359.94" cy="70.04" r="2.3"/><circle cx="361.11" cy="71.86" r="2.3"/><circle cx="362.30" cy="73.70" r="2.3"/><circle cx="363.52" cy="75.55" r="2.3"/><circle cx="364.77" cy="77.41" r="2.3"/><circle cx="366.05" cy="79.29" r="2.3"/><circle cx="367.36" cy="81.18" r="2.3"/><circle cx="368.71" cy="83.09" r="2.3"/><circle cx="370.08" cy="85.01" r="2.3"/><circle cx="371.49" cy="86.94" r="2.3"/><circle cx="372.94" cy="88.88" r="2.3"/><circle cx="374.42" cy="90.84" r="2.3"/><circle cx="375.95" cy="92.81" r="2.3"/><circle cx="377.51" cy="94.79" r="2.3"/><circle cx="379.11" cy="96.79" r="2.3"/><circle cx="380.76" cy="98.79" r="2.3"/><circle cx="382.45" cy="100.81" r="2.3"/><circle cx="384.18" cy="102.83" r="2.3"/><circle cx="385.97" cy="104.87" r="2.3"/><circle cx="391.00" cy="112.00" r="2.3"/><circle cx="396.00" cy="116.50" r="2.3"/><circle cx="401.00" cy="121.00" r="2.3"/><circle cx="405.00" cy="124.00" r="2.3"/><circle cx="408.00" cy="126.50" r="2.3"/><circle cx="411.00" cy="129.40" r="2.3"/><circle cx="415.50" cy="132.60" r="2.3"/><circle cx="420.00" cy="136.00" r="2.3"/><circle cx="425.00" cy="138.80" r="2.3"/><circle cx="431.00" cy="143.60" r="2.3"/><circle cx="437.50" cy="147.00" r="2.3"/><circle cx="444.60" cy="151.10" r="2.3"/><circle cx="451.10" cy="154.20" r="2.3"/><circle cx="456.90" cy="156.90" r="2.3"/><circle cx="463.60" cy="159.50" r="2.3"/><circle cx="467.00" cy="161.00" r="2.3"/><circle cx="472.00" cy="163.60" r="2.3"/><circle cx="477.20" cy="165.50" r="2.3"/><circle cx="481.70" cy="167.10" r="2.3"/><circle cx="486.60" cy="168.30" r="2.3"/><circle cx="490.80" cy="169.70" r="2.3"/><circle cx="495.70" cy="170.90" r="2.3"/><circle cx="498.50" cy="172.30" r="2.3"/><circle cx="502.40" cy="173.00" r="2.3"/><circle cx="507.80" cy="174.80" r="2.3"/><circle cx="516.20" cy="176.70" r="2.3"/><circle cx="522.90" cy="178.50" r="2.3"/><circle cx="531.00" cy="180.10" r="2.3"/></g><path d="M546.6,7.8H319.0V192.3H546.6" fill="none" stroke="#606060" stroke-width="1.5"/><path d="M547,7V193" fill="none" stroke="#808080" stroke-width="2"/><path d="M319.0,177.30h3.5 M319.0,146.40h3.5 M319.0,115.50h3.5 M319.0,84.60h3.5 M319.0,53.70h3.5 M319.0,22.80h3.5 M319.0,161.85h2 M319.0,130.95h2 M319.0,100.05h2 M319.0,69.15h2 M319.0,38.25h2 M332.30,192.3v-3.8 M365.82,192.3v-3.8 M399.33,192.3v-3.8 M432.85,192.3v-3.8 M466.37,192.3v-3.8 M499.88,192.3v-3.8 M533.40,192.3v-3.8 M349.06,192.3v-2 M382.57,192.3v-2 M416.09,192.3v-2 M449.61,192.3v-2 M483.12,192.3v-2 M516.64,192.3v-2" stroke="#4a4a4a" stroke-width="1.1" fill="none"/><text x="315.0" y="180.3" font-size="11.5" text-anchor="end" style="font-family:'Liberation Serif',serif" fill="#000" stroke="#000" stroke-width="0.12" >0.5</text><text x="315.0" y="149.4" font-size="11.5" text-anchor="end" style="font-family:'Liberation Serif',serif" fill="#000" stroke="#000" stroke-width="0.12" >0.6</text><text x="315.0" y="118.50000000000001" font-size="11.5" text-anchor="end" style="font-family:'Liberation Serif',serif" fill="#000" stroke="#000" stroke-width="0.12" >0.7</text><text x="315.0" y="87.59999999999998" font-size="11.5" text-anchor="end" style="font-family:'Liberation Serif',serif" fill="#000" stroke="#000" stroke-width="0.12" >0.8</text><text x="315.0" y="56.69999999999999" font-size="11.5" text-anchor="end" style="font-family:'Liberation Serif',serif" fill="#000" stroke="#000" stroke-width="0.12" >0.9</text><text x="315.0" y="25.8" font-size="11.5" text-anchor="end" style="font-family:'Liberation Serif',serif" fill="#000" stroke="#000" stroke-width="0.12" >1.0</text><text x="332.3" y="205.8" font-size="11.5" text-anchor="middle" style="font-family:'Liberation Serif',serif" fill="#000" stroke="#000" stroke-width="0.12" >0</text><text x="365.81666666666666" y="205.8" font-size="11.5" text-anchor="middle" style="font-family:'Liberation Serif',serif" fill="#000" stroke="#000" stroke-width="0.12" >250</text><text x="399.3333333333333" y="205.8" font-size="11.5" text-anchor="middle" style="font-family:'Liberation Serif',serif" fill="#000" stroke="#000" stroke-width="0.12" >500</text><text x="432.85" y="205.8" font-size="11.5" text-anchor="middle" style="font-family:'Liberation Serif',serif" fill="#000" stroke="#000" stroke-width="0.12" >750</text><text x="466.3666666666667" y="205.8" font-size="11.5" text-anchor="middle" style="font-family:'Liberation Serif',serif" fill="#000" stroke="#000" stroke-width="0.12" >1000</text><text x="499.8833333333333" y="205.8" font-size="11.5" text-anchor="middle" style="font-family:'Liberation Serif',serif" fill="#000" stroke="#000" stroke-width="0.12" >1250</text><text x="533.4" y="205.8" font-size="11.5" text-anchor="middle" style="font-family:'Liberation Serif',serif" fill="#000" stroke="#000" stroke-width="0.12" >1500</text><text x="278.8" y="10.6" font-size="14.6" text-anchor="start" style="font-family:'Liberation Serif',serif" fill="#000" stroke="#000" stroke-width="0.12" >(b)</text><text x="433.5" y="226.8" font-size="15" text-anchor="middle" style="font-family:'Liberation Serif',serif" fill="#000" stroke="#000" stroke-width="0.12"><tspan font-style="italic">T</tspan>, <tspan font-size="10" dy="-6.3">o</tspan><tspan dy="6.3">C</tspan></text><text transform="translate(291.4,101.5) rotate(-90)" font-size="16.3" text-anchor="middle" style="font-family:'Liberation Serif',serif" fill="#000" stroke="#000" stroke-width="0.12"><tspan font-style="italic">R</tspan>/<tspan font-style="italic">R</tspan><tspan font-size="10.5" dy="4.2">0</tspan></text><rect x="436.5" y="8.3" width="109.6" height="85" fill="#fff"/><path d="M445.2,35.6H458.7 M484.8,35.7H531 M445.2,81.2H531 M502.4,35.7V49 M502.4,67.4V92" stroke="#333" stroke-width="0.9" fill="none"/><path d="M531,33.9L537,35.7L531,37.5Z M531,79.4L537,81.2L531,83Z" fill="#333"/><path d="M494.4,92.2H510.6" stroke="#333" stroke-width="1.5"/><circle cx="502.4" cy="35.7" r="1" fill="#333"/><circle cx="502.4" cy="81.2" r="1" fill="#333"/><rect x="499.1" y="49.0" width="6.6" height="18.4" fill="#fff" stroke="#333" stroke-width="0.8"/><rect x="458.7" y="29.4" width="26.1" height="12.9" fill="#e0e0e0" stroke="#b0b0b0" stroke-width="0.6"/><path d="M461.0,30.6h4.7 M477.6,31.3h3.7 M461.1,32.1h6.0 M473.7,32.8h2.5 M468.8,33.6h3.8 M472.7,34.3h3.6 M465.2,35.1h7.1 M476.9,35.8h4.9 M463.4,36.6h7.5 M476.4,37.3h2.9 M460.0,38.1h9.8 M471.6,38.8h2.9 M470.7,39.6h7.1 M473.7,40.3h4.3 M460.4,41.1h7.9 M472.5,41.8h2.3" stroke="#ffffff" stroke-width="0.7"/><path d="M458.7,29.2V42.5 M484.8,29.2V42.5" stroke="#444" stroke-width="1.1"/><circle cx="442.2" cy="35.5" r="2.9" fill="none" stroke="#333" stroke-width="0.75"/><path d="M438.2,39.8L446.2,31.2" stroke="#333" stroke-width="0.8"/><circle cx="442.2" cy="81.0" r="2.9" fill="none" stroke="#333" stroke-width="0.75"/><path d="M438.2,85.3L446.2,76.7" stroke="#333" stroke-width="0.8"/><text x="457.5" y="22.8" font-size="10.5" text-anchor="start" style="font-family:'Liberation Serif',serif" fill="#000" stroke="#000" stroke-width="0.12" >R<tspan font-size="7.5" dy="1" stroke-width="0.05">MWNT</tspan></text><text x="436.6" y="62.2" font-size="10.5" text-anchor="start" style="font-family:'Liberation Serif',serif" fill="#000" stroke="#000" stroke-width="0.12" >U<tspan font-size="7.5" dy="1" stroke-width="0.05">0</tspan></text><text x="479.5" y="63.2" font-size="10.5" text-anchor="start" style="font-family:'Liberation Serif',serif" fill="#000" stroke="#000" stroke-width="0.12" >R<tspan font-size="7.5" dy="1.2" stroke-width="0" font-style="italic">ref.</tspan></text><text x="526.4" y="63.2" font-size="10.5" text-anchor="start" style="font-family:'Liberation Serif',serif" fill="#000" stroke="#000" stroke-width="0.12" >U<tspan font-size="7.5" dy="1.2" stroke-width="0" font-style="italic">ref.</tspan></text></svg>
</body></html>
